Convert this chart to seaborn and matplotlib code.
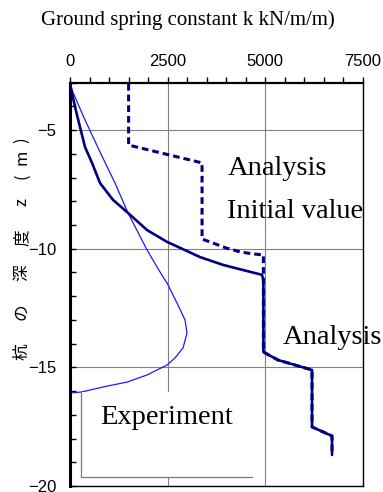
import seaborn as sns
import matplotlib.pyplot as plt
from matplotlib.patches import Rectangle
from matplotlib.ticker import MultipleLocator

# ground spring constant k (kN/m/m) vs pile depth z (m)
exp_k = [0, 26, 384, 768, 1152, 1485, 1971, 2381, 2483, 2739, 2944, 2995,
         2893, 2688, 2483, 1971, 1459, 947, 282, 0]
exp_z = [-3.05, -3.22, -4.57, -5.92, -7.23, -8.49, -10.05, -11.19, -11.44, -12.29,
         -13.0, -13.55, -14.18, -14.6, -14.9, -15.32, -15.62, -15.79, -16.04, -16.08]

ana_k = [0, 128, 256, 384, 563, 768, 1101, 1485, 1971, 2483, 2816, 3328, 3917,
         4915, 4950, 4950, 5324, 6195, 6195, 6707, 6707]
ana_z = [-3.05, -4.02, -4.87, -5.71, -6.38, -7.23, -7.94, -8.49, -9.21, -9.71,
         -9.96, -10.35, -10.68, -11.1, -11.32, -14.35, -14.69, -15.11, -17.51,
         -17.89, -18.69]

init_k = [1500, 1500, 3380, 3380, 3661, 4000, 4352, 4650, 4950, 4950, 5324,
          6195, 6195, 6707, 6707]
init_z = [-3.05, -5.63, -6.38, -9.59, -9.76, -9.97, -10.13, -10.21, -10.26,
          -14.35, -14.69, -15.11, -17.51, -17.89, -18.69]

x_ticks = [0, 2500, 5000, 7500]

# y-axis label, one character at a time (bottom to top) with its height in the figure
ylabel_chars = ['杭', 'の', '深', '度', 'z', '(', 'm', ')']
ylabel_pos = [0.285, 0.366, 0.446, 0.516, 0.589, 0.642, 0.681, 0.715]

sns.set_style("ticks")
plt.rcParams['font.family'] = ['Liberation Sans', 'DejaVu Sans']
plt.rcParams['text.color'] = 'black'

fig = plt.figure(figsize=(3.83, 4.92), dpi=100)
ax = fig.add_axes([0.1828, 0.0122, 0.765, 0.8197])

navy = '#00007f'
sns.lineplot(x=exp_k, y=exp_z, sort=False, estimator=None, color='#1a1aff',
             lw=0.9, ax=ax, zorder=2)
sns.lineplot(x=ana_k, y=ana_z, sort=False, estimator=None, color=navy,
             lw=1.9, ax=ax, zorder=5)
sns.lineplot(x=init_k, y=init_z, sort=False, estimator=None, color=navy,
             lw=2.2, ax=ax, zorder=6, dashes=False)
ax.lines[-1].set_linestyle((0, (2.2, 1.3)))

# white legend-like box covering the experiment tail
ax.add_patch(Rectangle((282, -19.63), 4377, 3.59, facecolor='white',
                       edgecolor='none', zorder=3))
ax.plot([282, 282, 4659], [-16.04, -19.63, -19.63], color='#777777', lw=0.9, zorder=4)

ax.set_xlim(0, 7500)
ax.set_ylim(-20, -3)
ax.set_xticks(x_ticks)
ax.xaxis.set_minor_locator(MultipleLocator(500))
ax.yaxis.set_major_locator(MultipleLocator(5))
ax.yaxis.set_minor_locator(MultipleLocator(1))
ax.xaxis.tick_top()
ax.tick_params(axis='x', which='both', direction='out', length=4, width=1,
               labelsize=12, pad=6, colors='black')
ax.tick_params(axis='y', which='both', direction='in', length=4, width=1,
               labelsize=12, pad=10, colors='black', right=False)
ax.grid(True, which='major', color='#808080', lw=0.8, zorder=1)
ax.set_axisbelow(True)
for side, w in [('left', 2.2), ('top', 1.6), ('right', 1.0), ('bottom', 1.0)]:
    ax.spines[side].set_visible(True)
    ax.spines[side].set_linewidth(w)
    ax.spines[side].set_color('black')
ax.set_xlabel('')
ax.set_ylabel('')

serif = ['Liberation Serif', 'DejaVu Serif']
fig.text(0.49, 0.959, 'Ground spring constant k kN/m/m)', family=serif,
         fontsize=15, ha='center', va='center')
ax.text(4044, -6.6, 'Analysis', family=serif, fontsize=20.5, va='center', zorder=7)
ax.text(4019, -8.45, 'Initial value', family=serif, fontsize=20.5, va='center', zorder=7)
ax.text(5452, -13.76, 'Analysis', family=serif, fontsize=20.5, va='center',
        zorder=7, clip_on=False)
ax.text(768, -17.13, 'Experiment', family=serif, fontsize=20.5, va='center', zorder=7)

for ch, yp in zip(ylabel_chars, ylabel_pos):
    fig.text(0.057, yp, ch, family=['Noto Sans CJK JP', 'DejaVu Sans'],
             fontsize=12, rotation=90, ha='center', va='center')

fig.savefig('out.png', dpi=100)
